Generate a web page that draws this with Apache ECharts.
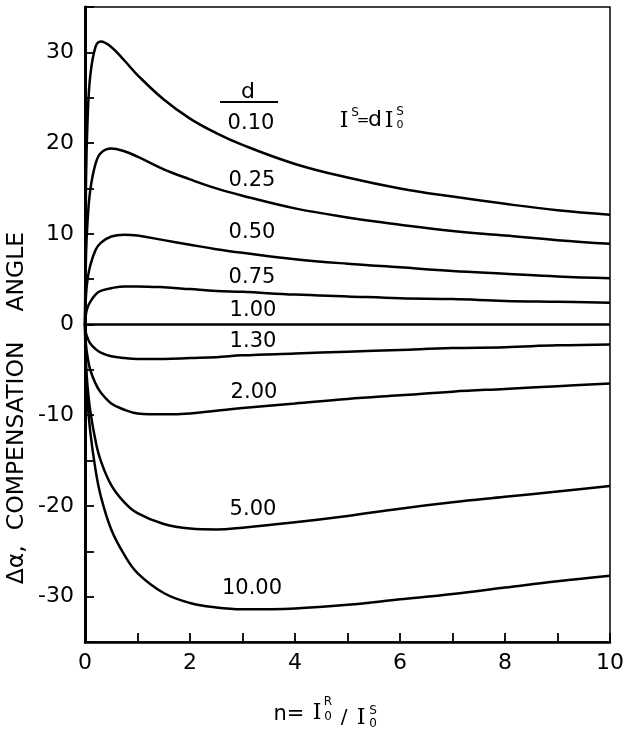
<!DOCTYPE html>
<html><head><meta charset="utf-8">
<script src="https://cdn.jsdelivr.net/npm/echarts@6/dist/echarts.min.js"></script>
<style>html,body{margin:0;padding:0;background:#fff}#c{width:630px;height:729px}</style>
</head><body><div id="c"></div>
<script>
// ---- data ----
const nValues = [0, 0.02, 0.05, 0.1, 0.2, 0.3, 0.5, 0.75, 1, 1.5, 2, 2.5, 3, 4, 5, 6, 7, 8, 9, 10];
const d010 = [0, 16.0, 22.7, 27.4, 30.6, 31.2, 30.6, 29.1, 27.5, 24.8, 22.7, 21.1, 19.8, 17.7, 16.2, 15.0, 14.1, 13.3, 12.6, 12.1];
const d025 = [0, 7.7, 11.5, 14.8, 17.7, 18.9, 19.4, 19.1, 18.5, 17.1, 16.0, 15.0, 14.2, 12.8, 11.8, 11.0, 10.3, 9.8, 9.3, 8.9];
const d050 = [0, 3.3, 5.0, 6.5, 8.2, 9.0, 9.7, 9.9, 9.8, 9.3, 8.8, 8.3, 7.9, 7.2, 6.7, 6.3, 5.9, 5.6, 5.3, 5.1];
const d075 = [0, 1.2, 1.9, 2.5, 3.3, 3.7, 4.0, 4.2, 4.2, 4.1, 3.9, 3.7, 3.6, 3.3, 3.1, 2.9, 2.8, 2.6, 2.5, 2.4];
const d100 = [0, 0, 0, 0, 0, 0, 0, 0, 0, 0, 0, 0, 0, 0, 0, 0, 0, 0, 0, 0];
const d130 = [0, -1.0, -1.5, -2.1, -2.7, -3.1, -3.5, -3.7, -3.8, -3.8, -3.7, -3.6, -3.4, -3.2, -3.0, -2.8, -2.6, -2.5, -2.3, -2.2];
const d200 = [0, -2.3, -3.6, -5.0, -6.5, -7.5, -8.7, -9.4, -9.8, -9.9, -9.8, -9.5, -9.2, -8.7, -8.2, -7.8, -7.4, -7.1, -6.8, -6.5];
const d500 = [0, -4.4, -6.9, -9.5, -12.8, -15.0, -17.7, -19.6, -20.8, -22.0, -22.5, -22.6, -22.4, -21.8, -21.1, -20.3, -19.6, -19.0, -18.4, -17.8];
const d1000 = [0, -5.5, -8.5, -11.8, -16.0, -18.9, -22.6, -25.4, -27.4, -29.6, -30.7, -31.2, -31.4, -31.3, -30.9, -30.3, -29.7, -29.0, -28.3, -27.7];
const curveNames = ['0.10', '0.25', '0.50', '0.75', '1.00', '1.30', '2.00', '5.00', '10.00'];
const curveValues = [d010, d025, d050, d075, d100, d130, d200, d500, d1000];
const xLabelValues = [0, 2, 4, 6, 8, 10];
const yLabelValues = [-30, -20, -10, 0, 10, 20, 30];

// ---- layout ----
const FONT = '"DejaVu Sans", sans-serif';
const SERIF = '"DejaVu Serif", "Liberation Serif", serif';
const labelPos = [[251,124],[252,181],[252,233],[252,278],[253,311],[253,342],[254,393],[253,510],[252,589]];

const chart = echarts.init(document.getElementById('c'), null, {renderer: 'canvas'});

const series = curveValues.map((arr, k) => ({
  name: curveNames[k],
  type: 'line',
  data: nValues.map((n, i) => [n, arr[i]]),
  symbol: 'none',
  smooth: 0.4,
  lineStyle: {color: '#000', width: 2.5},
  silent: true,
  animation: false
}));

function txt(x, y, text, size, opts) {
  opts = opts || {};
  return {
    type: 'text', x: x, y: y, silent: true, rotation: opts.rotation || 0,
    style: {
      text: text, fill: '#000',
      font: (opts.weight || 'normal') + ' ' + size + 'px ' + (opts.family || FONT),
      align: opts.align || 'center', verticalAlign: opts.va || 'middle'
    }
  };
}

const graphics = [];
curveNames.forEach((t, k) => graphics.push(txt(labelPos[k][0], labelPos[k][1], t, 21)));
// "d" header with rule
graphics.push(txt(248, 92, 'd', 22));
graphics.push({type: 'line', silent: true, shape: {x1: 220, y1: 102, x2: 278, y2: 102}, style: {stroke: '#000', lineWidth: 2}});
// I^S = d I_0^S
graphics.push(txt(344, 121, 'I', 22, {family: SERIF}));
graphics.push(txt(355, 113, 'S', 12));
graphics.push(txt(363, 121, '=', 15));
graphics.push(txt(375, 120, 'd', 22));
graphics.push(txt(389, 121, 'I', 22, {family: SERIF}));
graphics.push(txt(400, 112, 'S', 12));
graphics.push(txt(400, 125, '0', 11));
// y-axis title
graphics.push(txt(17, 408, 'Δα,  COMPENSATION    ANGLE', 23.5, {rotation: Math.PI / 2}));
// x-axis title n = I_0^R / I_0^S
graphics.push(txt(289, 715, 'n=', 21));
graphics.push(txt(317, 713, 'I', 22, {family: SERIF}));
graphics.push(txt(328, 702, 'R', 12));
graphics.push(txt(328, 717, '0', 12));
graphics.push(txt(344, 718, '/', 20));
graphics.push(txt(361, 718, 'I', 22, {family: SERIF}));
graphics.push(txt(373, 711, 'S', 12));
graphics.push(txt(373, 724, '0', 12));

const option = {
  animation: false,
  backgroundColor: '#fff',
  grid: {left: 85, right: 20, top: 7, bottom: 87, show: true, borderColor: '#000', borderWidth: 1.5, backgroundColor: 'transparent'},
  xAxis: {
    type: 'value', min: 0, max: 10, interval: 1,
    axisLine: {show: true, onZero: false, lineStyle: {color: '#000', width: 2.5}},
    axisTick: {show: true, inside: true, length: 9, lineStyle: {color: '#000', width: 1.8}},
    axisLabel: {
      margin: 10, color: '#000', fontSize: 22, fontFamily: FONT,
      formatter: v => xLabelValues.indexOf(v) >= 0 ? String(v) : ''
    },
    splitLine: {show: false}
  },
  yAxis: {
    type: 'value', min: -35, max: 35, interval: 5,
    axisLine: {show: true, onZero: false, lineStyle: {color: '#000', width: 3}},
    axisTick: {show: true, inside: true, length: 9, lineStyle: {color: '#000', width: 1.8}},
    axisLabel: {
      margin: 11, color: '#000', fontSize: 22, fontFamily: FONT,
      formatter: v => yLabelValues.indexOf(v) >= 0 ? String(v) : ''
    },
    splitLine: {show: false}
  },
  series: series,
  graphic: graphics
};
chart.setOption(option);
</script>
</body></html>
